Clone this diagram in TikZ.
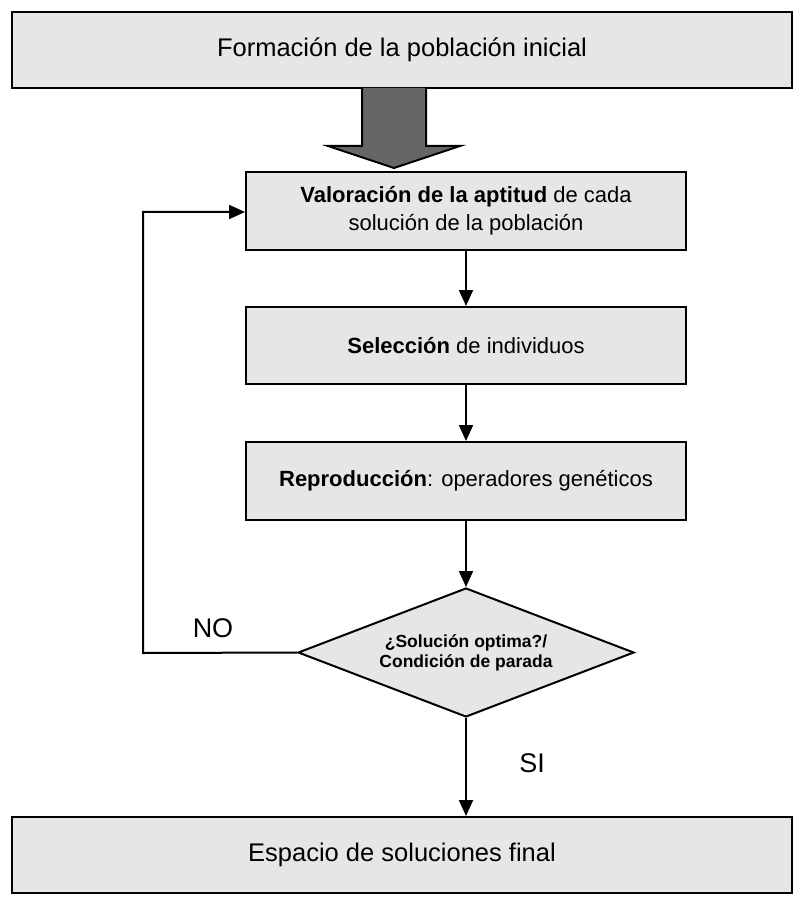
\documentclass[tikz,border=0pt]{standalone}
\usepackage{fontspec}
\setmainfont{Liberation Sans}
\usetikzlibrary{arrows.meta,shapes.geometric}
\definecolor{boxfill}{HTML}{E6E6E6}
\definecolor{bigarrow}{HTML}{666666}
\begin{document}
\begin{tikzpicture}[x=1pt,y=-1pt,
  box/.style={draw=black,line width=2pt,fill=boxfill,inner sep=0pt,align=center},
  conn/.style={line width=2pt,-{Triangle[length=16pt,width=14pt]}},
  lbl/.style={font=\fontsize{27}{30}\selectfont}]
\useasboundingbox (0,0) rectangle (801,901);
\node[box,minimum width=780pt,minimum height=76pt,font=\fontsize{25.5}{30}\selectfont] (init) at (402,50) {Formación de la población inicial};
\node[box,minimum width=440pt,minimum height=78pt,font=\fontsize{22}{28}\selectfont] (val) at (466,211) {\textbf{Valoración de la aptitud} de cada\\ solución de la población};
\node[box,minimum width=440pt,minimum height=77pt,font=\fontsize{22}{26}\selectfont] (sel) at (466,345.5) {\textbf{Selección} de individuos};
\node[box,minimum width=440pt,minimum height=78pt,font=\fontsize{22}{26}\selectfont] (rep) at (466,481) {\textbf{Reproducción}: operadores genéticos};
\node[draw=black,line width=2pt,fill=boxfill,diamond,aspect=2.6,minimum width=336pt,minimum height=129pt,inner sep=0pt,align=center,font=\bfseries\fontsize{17.5}{20}\selectfont] (dec) at (466,652.5) {¿Solución optima?/\\Condición de parada};
\node[box,minimum width=780pt,minimum height=76pt,font=\fontsize{25.5}{30}\selectfont] (fin) at (402,855) {Espacio de soluciones final};
% big arrow
\draw[line width=2pt,fill=bigarrow,line join=miter]
  (362,88) -- (362,146) -- (328,146) -- (394,168) -- (460,146) -- (426,146) -- (426,88);
\draw[conn] (val.south -| 466,0) -- (sel.north);
\draw[conn] (sel.south) -- (rep.north);
\draw[conn] (rep.south) -- (dec.north);
\draw[conn] (dec.south) -- (fin.north -| dec.south);
\coordinate (lb) at (143,653);
\coordinate (lt) at (143,212);
\draw[conn] (dec.west) -- (lb) -- (lt) -- (val.west |- lt);
\node[lbl] (no) at (213,628) {NO};
\node[lbl] (si) at (532,763) {SI};
\end{tikzpicture}
\end{document}
